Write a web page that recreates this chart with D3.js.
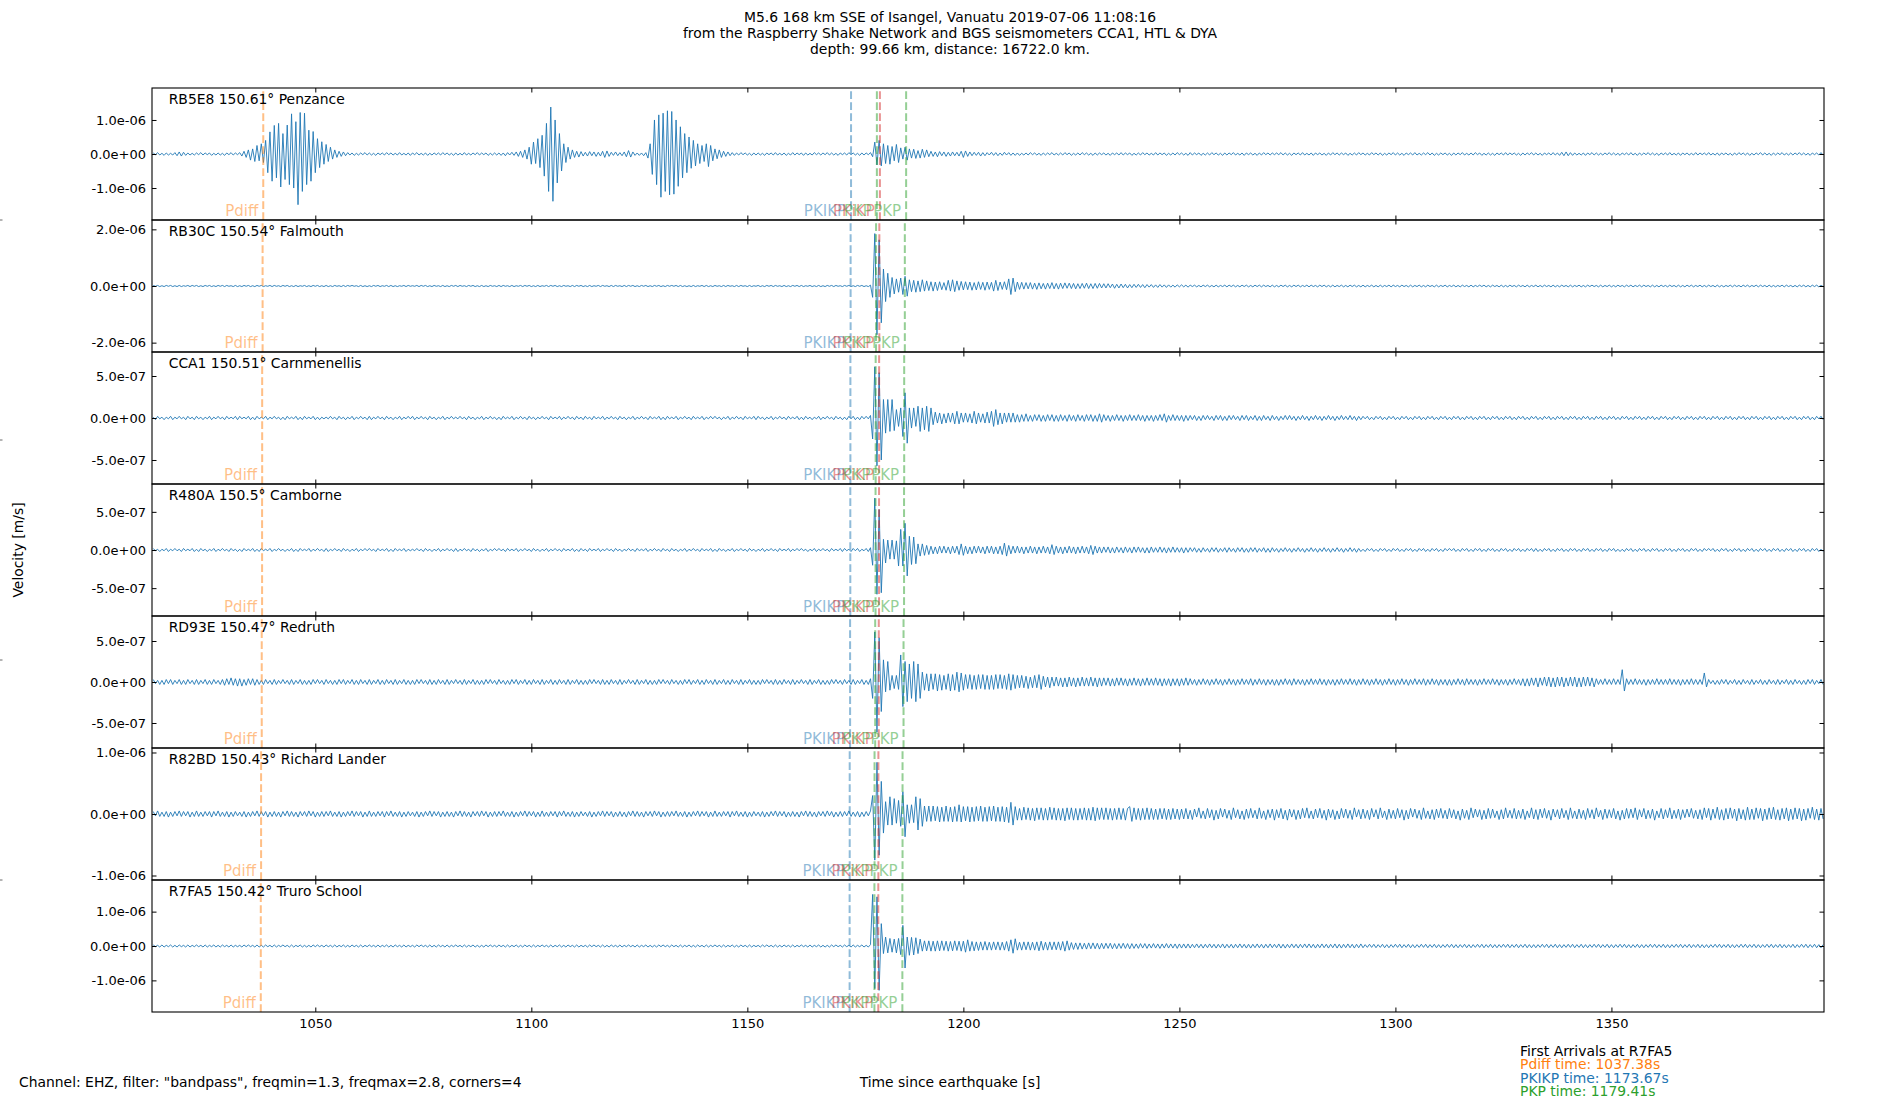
<!DOCTYPE html>
<html lang="en">
<head>
    <meta charset="UTF-8">
    <title>Seismograms</title>
    <style>
        body{ margin: 0; background: #fff; }
        svg text{ font-family: "DejaVu Sans", sans-serif; fill: #000; }
    </style>
</head>
<body>
    <svg id="main-svg" width="1900" height="1100"></svg>

    <script src="https://cdn.jsdelivr.net/npm/d3@7"></script>
    <script>

        // ---- data ----
        const stations = ['RB5E8', 'RB30C', 'CCA1', 'R480A', 'RD93E', 'R82BD', 'R7FA5'];
        const distances = [150.61, 150.54, 150.51, 150.5, 150.47, 150.43, 150.42];
        const towns = ['Penzance', 'Falmouth', 'Carnmenellis', 'Camborne', 'Redruth', 'Richard Lander', 'Truro School'];

        // symmetric y limits (m/s) and y ticks for each panel
        const yLimits = [1.94e-6, 2.33e-6, 7.86e-7, 8.65e-7, 8.05e-7, 1.073e-6, 1.92e-6];
        const yTicks = [
            [-1e-6, 0, 1e-6], [-2e-6, 0, 2e-6], [-5e-7, 0, 5e-7], [-5e-7, 0, 5e-7],
            [-5e-7, 0, 5e-7], [-1e-6, 0, 1e-6], [-1e-6, 0, 1e-6]
        ];

        const timeRange = [1012.2, 1399.2];
        const xTicks = [1050, 1100, 1150, 1200, 1250, 1300, 1350];

        // arrival times (s) per station
        const pdiffTimes = [1037.95, 1037.8, 1037.7, 1037.68, 1037.6, 1037.45, 1037.38];
        const pkikpTimes = [1174.0, 1173.9, 1173.85, 1173.83, 1173.78, 1173.69, 1173.67];
        const pkikpInnerTimes = [1180.68, 1180.55, 1180.5, 1180.48, 1180.42, 1180.33, 1180.31];
        const pkpTimes = [1179.98, 1179.79, 1179.7, 1179.67, 1179.59, 1179.44, 1179.41];
        const pkpLateTimes = [1186.75, 1186.45, 1186.3, 1186.27, 1186.15, 1185.92, 1185.88];

        // traces: one peak value every half second from 1012.5 s, in units of 1e-8 m/s
        // (each line = 20 s)
        const traceStart = 1012.5, traceStep = 0.5, traceUnit = 1e-8;

        const traceRB5E8 = [
            3,-2,4,-3,2,-4,3,-3,2,-3, 4,-5,6,-6,5,-4,3,-3,2,-3, 3,-2,4,-3,3,-2,3,-4,2,-3, 3,-3,2,-4,3,-2,4,-3,3,-2,
            4,-6,8,-10,12,-18,15,-22,25,-20, 30,-25,40,-55,65,-80,84,-70,90,-97, 60,-75,85,-90,118,-100,95,-149,122,-110, 120,-90,70,-80,66,-55,45,-40,36,-30,
            28,-22,20,-15,12,-10,8,-7,6,-5, 4,-3,3,-4,2,-3,3,-2,4,-3, 3,-3,2,-4,3,-2,3,-3,4,-2, 3,-3,2,-3,4,-3,2,-3,3,-4,
            3,-2,4,-3,2,-3,3,-4,2,-3, 3,-2,3,-3,4,-2,3,-3,2,-4, 3,-3,2,-3,4,-3,2,-3,3,-2, 4,-3,3,-2,3,-4,2,-3,3,-3,
            3,-4,3,-5,4,-3,5,-4,6,-7, 8,-10,12,-15,20,-30,35,-28,45,-40, 55,-65,90,-110,138,-139,100,-85,60,-50, 30,-25,20,-15,12,-10,8,-9,7,-6,
            5,-6,7,-5,6,-7,5,-6,8,-10, 9,-7,5,-4,6,-5,4,-5,6,-8, 10,-9,6,-4,3,-4,3,-5,4,-12, 30,-60,100,-90,115,-127,120,-110,127,-120,
            125,-118,100,-95,80,-70,60,-55,50,-42, 40,-35,30,-28,25,-22,30,-37,25,-20, 15,-14,12,-10,8,-7,6,-5,4,-4, 3,-3,4,-2,3,-3,2,-4,3,-3,
            3,-3,2,-4,3,-2,3,-3,4,-3, 2,-3,3,-4,2,-3,4,-3,3,-2, 3,-4,3,-3,2,-3,4,-2,3,-3, 3,-2,4,-3,3,-3,2,-4,3,-2,
            3,-3,4,-2,3,-3,2,-4,3,-3, 3,-2,4,-8,35,-32,40,-35,30,-28, 25,-30,22,-20,28,-25,18,-15,20,-18, 15,-12,14,-13,10,-12,14,-10,12,-8,
            8,-7,6,-8,7,-5,6,-7,5,-6, 6,-5,5,-6,8,-10,9,-7,6,-5, 5,-4,5,-6,4,-5,4,-3,5,-4, 4,-5,3,-4,5,-3,4,-4,3,-4,
            3,-4,2,-3,3,-3,4,-2,3,-3, 2,-4,3,-3,3,-2,4,-3,2,-3, 3,-3,4,-2,3,-4,2,-3,3,-3, 4,-2,3,-3,2,-4,3,-3,3,-2,
            3,-3,2,-4,3,-2,3,-3,4,-3, 3,-2,3,-4,2,-3,3,-3,4,-2, 3,-3,2,-3,4,-3,3,-2,3,-4, 2,-3,3,-3,4,-2,3,-3,2,-4,
            4,-3,3,-2,3,-4,2,-3,3,-3, 4,-2,3,-3,2,-4,3,-3,3,-2, 4,-3,2,-3,3,-4,3,-2,3,-3, 2,-4,3,-3,4,-2,3,-3,3,-2,
            3,-2,4,-3,3,-3,2,-4,3,-2, 3,-3,4,-3,2,-3,3,-4,3,-2, 3,-3,2,-4,3,-3,4,-2,3,-3, 3,-2,3,-4,2,-3,3,-3,4,-2,
            3,-3,2,-3,4,-2,3,-3,3,-4, 2,-3,3,-2,4,-3,3,-3,2,-4, 3,-2,3,-3,4,-3,2,-3,3,-2, 4,-3,3,-4,2,-3,3,-2,3,-3,
            2,-4,3,-3,3,-2,4,-3,2,-3, 3,-3,4,-2,3,-4,2,-3,3,-3, 2,-4,3,-2,3,-3,4,-3,3,-2, 3,-3,2,-4,3,-3,3,-2,4,-3,
            3,-3,2,-4,3,-2,3,-3,4,-3, 3,-4,5,-5,6,-5,4,-4,3,-3, 2,-3,3,-4,3,-2,4,-3,3,-3, 2,-3,3,-2,4,-3,3,-3,2,-4,
            3,-2,3,-3,4,-3,2,-4,3,-3, 3,-2,4,-3,3,-3,2,-4,3,-2, 3,-3,4,-3,2,-3,3,-4,3,-2, 3,-3,2,-3,4,-3,3,-2,3,-3,
            4,-3,2,-3,3,-4,3,-2,3,-3, 2,-4,3,-3,4,-2,3,-3,3,-4, 2,-3,3,-2,4,-3,3,-3,2,-4, 3,-3,3,-2,4,-3,2,-3,3,-3,
            3,-2,4,-3,3,-3,2,-4,3,-2,3,-3,4,-3
        ];

        const traceRB30C = [
            2,-1,2,-2,1,-2,2,-1,2,-2, 1,-2,2,-2,1,-1,2,-2,2,-1, 2,-2,1,-2,2,-1,2,-2,1,-2, 2,-1,2,-2,2,-1,1,-2,2,-2,
            1,-2,2,-1,2,-2,1,-2,2,-1, 2,-2,1,-1,2,-2,2,-1,1,-2, 2,-1,2,-2,1,-2,2,-2,1,-1, 2,-2,1,-2,2,-1,2,-2,1,-2,
            2,-2,1,-2,2,-1,1,-2,2,-2, 2,-1,2,-1,1,-2,2,-2,1,-2, 1,-2,2,-1,2,-2,1,-1,2,-2, 2,-2,1,-2,1,-1,2,-2,2,-1,
            1,-1,2,-2,2,-1,2,-2,1,-2, 2,-1,1,-2,2,-2,1,-2,2,-1, 2,-2,2,-1,1,-2,2,-1,2,-2, 1,-2,2,-2,1,-2,2,-1,1,-2,
            2,-2,2,-1,1,-2,2,-2,1,-1, 2,-2,2,-1,2,-2,1,-2,2,-2, 1,-1,2,-2,2,-1,2,-2,1,-2, 2,-1,1,-2,2,-2,2,-1,2,-2,
            1,-2,2,-2,1,-1,2,-2,2,-1, 1,-2,2,-2,2,-1,1,-2,2,-2, 2,-1,2,-2,1,-2,2,-1,2,-2, 1,-2,2,-1,2,-2,1,-2,2,-1,
            2,-1,2,-2,2,-2,1,-2,1,-2, 2,-2,1,-1,2,-2,2,-2,1,-2, 2,-1,1,-2,2,-2,2,-1,1,-2, 2,-2,2,-1,1,-2,2,-2,1,-1,
            2,-2,1,-2,2,-1,2,-2,2,-1, 1,-2,2,-2,1,-2,2,-1,2,-2, 2,-2,1,-1,2,-2,1,-2,2,-2, 1,-2,2,-1,2,-2,2,-1,1,-2,
            2,-1,2,-2,1,-2,2,-1,2,-2, 1,-2,3,-40,185,-172,163,-130,60,-55, 45,-40,30,-28,25,-22,28,-30,34,-36, 22,-20,20,-22,18,-20,22,-18,18,-16,
            15,-18,14,-16,15,-13,12,-15,20,-18, 22,-20,18,-15,16,-14,15,-13,14,-15, 12,-14,15,-12,13,-15,14,-12,13,-18, 20,-16,14,-12,15,-13,25,-30,28,-20,
            14,-12,13,-11,12,-10,12,-11,10,-12, 11,-10,9,-11,10,-9,12,-10,9,-11, 10,-9,11,-8,10,-9,9,-10,8,-9, 9,-8,10,-9,8,-9,9,-8,9,-7,
            8,-7,8,-6,7,-8,6,-7,7,-6, 6,-7,5,-6,6,-5,6,-5,5,-6, 5,-4,5,-5,4,-5,5,-4,4,-5, 4,-4,3,-4,4,-3,4,-3,3,-4,
            3,-2,3,-3,2,-3,3,-2,3,-3, 2,-3,3,-3,2,-2,3,-3,3,-2, 3,-3,2,-3,3,-2,3,-3,2,-3, 3,-2,3,-3,3,-2,2,-3,3,-3,
            2,-3,3,-2,3,-3,2,-3,3,-2, 3,-3,2,-2,3,-3,3,-2,2,-3, 3,-2,3,-3,2,-3,3,-3,2,-2, 3,-3,2,-3,3,-2,3,-3,2,-3,
            3,-3,2,-2,3,-3,2,-3,3,-3, 2,-2,3,-3,3,-2,2,-3,3,-2, 2,-3,3,-3,2,-2,3,-3,2,-3, 3,-2,2,-3,3,-3,2,-2,3,-3,
            2,-2,3,-3,2,-3,3,-2,2,-3, 3,-3,2,-2,3,-2,3,-3,2,-3, 3,-2,2,-3,3,-3,2,-3,3,-2, 2,-3,3,-2,2,-3,3,-3,2,-2,
            3,-3,2,-3,3,-2,2,-3,3,-3, 2,-3,3,-2,2,-3,3,-3,2,-2, 3,-3,2,-3,3,-2,3,-2,2,-3, 3,-3,2,-2,3,-3,2,-3,3,-2,
            2,-3,3,-2,3,-3,2,-2,3,-3, 3,-2,2,-3,3,-3,2,-3,3,-2, 2,-3,3,-2,2,-3,3,-3,2,-3, 3,-2,3,-3,2,-2,3,-3,2,-3,
            3,-2,2,-3,3,-3,2,-3,2,-2, 3,-3,3,-2,2,-3,3,-2,3,-3, 2,-2,3,-3,3,-2,2,-3,3,-3, 2,-3,2,-2,3,-3,3,-2,2,-3,
            2,-3,3,-2,3,-3,2,-3,3,-2,3,-3,2,-2
        ];

        const traceCCA1 = [
            1,-2,2,-1,1,-2,1,-1,2,-2, 1,-1,2,-1,1,-2,2,-1,1,-2, 2,-1,1,-2,1,-1,2,-2,1,-1, 2,-1,1,-2,2,-1,1,-1,2,-2,
            2,-1,1,-1,2,-2,1,-2,2,-1, 1,-1,2,-2,1,-1,2,-1,1,-2, 1,-2,2,-1,1,-1,2,-2,1,-2, 2,-1,1,-1,2,-2,1,-2,1,-1,
            1,-1,2,-1,1,-2,2,-1,1,-2, 1,-1,2,-2,1,-1,2,-1,1,-2, 2,-2,1,-1,2,-1,1,-2,2,-1, 1,-2,1,-1,2,-2,1,-1,2,-1,
            2,-2,1,-1,2,-1,1,-2,2,-1, 1,-2,1,-1,2,-2,1,-1,2,-1, 1,-1,2,-1,1,-2,2,-1,1,-2, 1,-1,2,-2,1,-1,2,-1,1,-2,
            1,-2,2,-1,1,-1,2,-2,1,-1, 2,-1,1,-2,2,-1,1,-2,1,-1, 2,-1,1,-2,2,-1,1,-1,2,-2, 1,-1,2,-1,1,-2,2,-1,1,-2,
            2,-1,1,-2,2,-1,1,-1,2,-2, 1,-1,2,-1,1,-2,2,-1,1,-2, 1,-1,2,-2,1,-1,2,-1,1,-2, 2,-1,1,-1,2,-2,1,-2,2,-1,
            1,-1,2,-2,1,-1,2,-1,1,-2, 2,-1,1,-1,2,-2,1,-1,2,-1, 2,-1,1,-2,1,-1,2,-2,1,-1, 2,-1,1,-2,2,-1,1,-1,2,-2,
            2,-1,1,-2,1,-1,2,-2,1,-1, 2,-1,1,-2,2,-1,1,-1,2,-2, 1,-2,2,-1,1,-2,1,-1,2,-2, 1,-1,2,-1,1,-2,2,-1,1,-2,
            1,-2,2,-1,2,-2,1,-2,2,-1, 2,-1,3,-25,61,-57,54,-50,22,-18, 22,-16,22,-15,10,-10,12,-22,30,-30, 12,-12,12,-10,14,-16,12,-14,14,-16,
            12,-8,7,-6,6,-7,5,-6,6,-5, 6,-7,8,-7,6,-5,6,-5,5,-6, 8,-7,6,-5,5,-6,7,-6,8,-10, 10,-8,6,-7,6,-5,6,-5,6,-5,
            4,-5,4,-4,5,-4,3,-4,4,-3, 4,-4,3,-4,4,-3,4,-4,3,-4, 4,-3,3,-4,4,-3,3,-4,4,-3, 3,-4,4,-3,4,-4,3,-4,5,-5,
            4,-3,3,-4,3,-3,4,-3,3,-4, 3,-3,4,-3,3,-3,4,-3,3,-4, 3,-3,3,-4,3,-3,4,-3,5,-5, 3,-3,4,-3,3,-3,3,-4,3,-3,
            3,-2,3,-3,2,-3,3,-2,3,-2, 2,-3,3,-2,3,-3,2,-3,3,-2, 3,-2,2,-3,3,-2,3,-3,2,-2, 3,-3,2,-3,3,-2,2,-3,3,-2,
            2,-3,2,-2,3,-2,3,-2,2,-3, 2,-2,3,-2,2,-3,2,-2,3,-2, 2,-3,2,-2,3,-2,2,-3,2,-2, 3,-2,2,-2,3,-2,2,-3,2,-2,
            2,-1,2,-2,1,-2,2,-1,2,-2, 1,-2,2,-1,2,-2,1,-2,2,-1, 2,-2,1,-2,2,-1,2,-2,1,-2, 2,-1,2,-2,1,-2,2,-1,2,-2,
            1,-2,2,-1,2,-2,1,-2,2,-1, 2,-2,1,-2,2,-1,2,-2,1,-2, 2,-1,2,-2,1,-2,2,-1,2,-2, 1,-2,2,-1,2,-2,1,-2,2,-1,
            2,-2,1,-2,2,-1,2,-2,1,-2, 2,-1,2,-2,1,-2,2,-1,2,-2, 1,-2,2,-1,2,-2,1,-2,2,-1, 2,-2,1,-2,2,-1,2,-2,1,-2,
            2,-1,2,-2,1,-2,2,-1,2,-2, 1,-2,2,-1,2,-2,1,-2,2,-1, 2,-2,1,-2,2,-1,2,-2,1,-2, 2,-1,2,-2,1,-2,2,-1,2,-2,
            1,-2,2,-1,2,-2,1,-2,2,-1, 2,-2,1,-2,2,-1,2,-2,1,-2, 2,-1,2,-2,1,-2,2,-1,2,-2, 1,-2,2,-1,2,-2,1,-2,2,-1,
            2,-2,1,-2,2,-1,2,-2,1,-2,2,-1,2,-2
        ];

        const traceR480A = [
            2,-1,1,-2,1,-1,2,-2,1,-1, 2,-1,1,-2,2,-1,1,-1,2,-2, 1,-2,2,-1,1,-2,1,-1,2,-2, 1,-1,2,-1,1,-2,2,-1,1,-2,
            1,-2,2,-1,1,-1,2,-2,1,-2, 2,-1,1,-1,2,-2,1,-1,2,-1, 1,-2,1,-1,2,-2,1,-2,2,-1, 1,-1,2,-2,1,-1,2,-1,1,-2,
            2,-2,1,-1,2,-1,1,-2,2,-1, 1,-2,1,-1,2,-2,1,-1,2,-1, 2,-1,1,-2,2,-1,1,-1,2,-2, 1,-2,2,-1,1,-1,2,-2,1,-1,
            1,-1,2,-1,1,-2,2,-1,1,-2, 1,-1,2,-2,1,-1,2,-1,1,-2, 2,-2,1,-1,2,-1,1,-2,2,-1, 1,-2,1,-1,2,-2,1,-1,2,-1,
            2,-1,1,-2,2,-1,1,-1,2,-2, 1,-1,2,-1,1,-2,2,-1,1,-2, 1,-1,2,-2,1,-1,2,-1,1,-2, 2,-1,1,-1,2,-2,1,-2,2,-1,
            1,-2,2,-1,1,-1,2,-2,1,-1, 2,-1,1,-2,2,-1,1,-2,1,-1, 2,-1,1,-2,2,-1,1,-1,2,-2, 1,-1,2,-1,1,-2,2,-1,1,-2,
            2,-1,1,-2,1,-1,2,-2,1,-1, 2,-1,1,-2,2,-1,1,-1,2,-2, 1,-2,2,-1,1,-2,1,-1,2,-2, 1,-1,2,-1,1,-2,2,-1,1,-2,
            1,-1,2,-2,1,-1,2,-1,1,-2, 2,-1,1,-1,2,-2,1,-1,2,-1, 2,-1,1,-2,1,-1,2,-2,1,-1, 2,-1,1,-2,2,-1,1,-1,2,-2,
            2,-1,1,-2,2,-1,2,-2,1,-1, 2,-2,3,-20,68,-58,53,-56,14,-17, 13,-12,13,-12,12,-21,27,-21,35,-34, 18,-19,17,-18,8,-8,8,-7,6,-6,
            5,-5,4,-5,5,-4,5,-4,4,-5, 5,-4,5,-6,8,-7,5,-5,4,-5, 5,-4,5,-4,4,-5,5,-4,5,-5, 4,-5,5,-6,9,-8,6,-5,5,-4,
            5,-4,4,-5,4,-4,5,-4,4,-5, 4,-4,5,-4,4,-5,7,-6,5,-4, 4,-5,4,-4,5,-4,4,-5,4,-4, 5,-4,4,-5,6,-6,5,-4,4,-4,
            4,-3,4,-4,3,-4,4,-3,3,-4, 4,-3,3,-4,4,-3,4,-3,3,-4, 3,-4,4,-3,3,-3,4,-3,3,-4, 3,-3,4,-3,3,-3,3,-4,3,-3,
            3,-2,3,-3,2,-3,3,-2,2,-3, 3,-2,3,-3,2,-2,3,-3,3,-2, 2,-3,3,-2,3,-3,2,-3,3,-2, 3,-3,2,-2,3,-3,2,-3,3,-2,
            2,-3,2,-2,3,-2,2,-3,2,-2, 3,-2,2,-3,2,-2,3,-2,2,-3, 2,-2,3,-2,2,-3,2,-2,3,-2, 2,-3,2,-2,3,-2,2,-3,2,-2,
            1,-2,2,-1,2,-2,1,-2,2,-1, 2,-2,1,-2,2,-1,2,-2,1,-2, 2,-1,2,-2,1,-2,2,-1,2,-2, 1,-2,2,-1,2,-2,1,-2,2,-1,
            2,-1,2,-2,1,-2,2,-1,2,-2, 1,-2,2,-1,2,-2,1,-2,2,-1, 2,-2,1,-2,2,-1,2,-2,1,-2, 2,-1,2,-2,1,-2,2,-1,2,-2,
            2,-2,1,-2,2,-1,2,-2,1,-2, 2,-1,2,-2,1,-2,2,-1,2,-2, 1,-2,2,-1,2,-2,1,-2,2,-1, 2,-2,1,-2,2,-1,2,-2,1,-2,
            1,-2,2,-1,2,-2,1,-2,2,-1, 2,-2,1,-2,2,-1,2,-2,1,-2, 2,-1,2,-2,1,-2,2,-1,2,-2, 1,-2,2,-1,2,-2,1,-2,2,-1,
            2,-1,2,-2,1,-2,2,-1,2,-2, 1,-2,2,-1,2,-2,1,-2,2,-1, 2,-2,1,-2,2,-1,2,-2,1,-2, 2,-1,2,-2,1,-2,2,-1,2,-2,
            1,-2,2,-1,2,-2,1,-2,2,-1,2,-2,1,-2
        ];

        const traceRD93E = [
            3,-2,2,-3,2,-3,3,-2,3,-3, 2,-2,3,-3,2,-3,3,-2,2,-3, 3,-3,2,-2,3,-3,2,-3,3,-2, 2,-3,3,-4,4,-3,5,-4,4,-5,
            4,-5,3,-4,4,-3,4,-4,3,-3, 2,-3,3,-2,2,-3,3,-3,2,-2, 3,-2,2,-3,3,-3,2,-2,3,-3, 2,-3,2,-3,3,-2,3,-2,2,-3,
            3,-2,2,-3,2,-3,3,-2,3,-3, 2,-2,3,-3,2,-3,3,-2,2,-3, 3,-3,2,-2,3,-3,2,-3,3,-2, 2,-3,3,-3,2,-2,3,-3,2,-3,
            2,-3,3,-2,3,-2,2,-3,3,-3, 2,-3,3,-2,2,-3,3,-3,2,-2, 3,-2,2,-3,3,-3,2,-2,3,-3, 2,-3,2,-3,3,-2,3,-2,2,-3,
            3,-2,2,-3,2,-3,3,-2,3,-3, 2,-2,3,-3,2,-3,3,-2,2,-3, 3,-3,2,-2,3,-3,2,-3,3,-2, 2,-3,3,-3,2,-2,3,-3,2,-3,
            2,-3,3,-2,3,-2,2,-3,3,-3, 2,-3,3,-2,2,-3,3,-3,2,-2, 3,-2,2,-3,3,-3,2,-2,3,-3, 2,-3,2,-3,3,-2,3,-2,2,-3,
            3,-2,2,-3,2,-3,3,-2,3,-3, 2,-2,3,-3,2,-3,3,-2,2,-3, 3,-3,2,-2,3,-3,2,-3,3,-2, 2,-3,3,-3,2,-2,3,-3,2,-3,
            2,-3,3,-2,3,-2,2,-3,3,-3, 2,-3,3,-2,2,-3,3,-3,2,-2, 3,-2,2,-3,3,-3,2,-2,3,-3, 2,-3,2,-3,3,-2,3,-2,2,-3,
            3,-2,2,-3,3,-3,2,-2,3,-3, 2,-3,4,-20,61,-61,54,-36,27,-12, 25,-10,8,-8,8,-9,33,-30,25,-24, 22,-20,25,-24,22,-20,12,-10,10,-11,
            10,-9,10,-11,9,-10,8,-9,10,-11, 9,-10,12,-12,11,-10,9,-8,9,-9, 8,-9,9,-8,9,-9,8,-9,8,-9, 9,-8,9,-8,8,-9,10,-10,9,-8,
            8,-7,8,-7,7,-8,6,-7,8,-7, 9,-9,7,-6,6,-7,6,-5,6,-5, 5,-6,5,-6,6,-5,5,-6,5,-5, 6,-5,5,-5,6,-5,5,-6,5,-5,
            5,-4,5,-5,4,-5,5,-4,5,-4, 4,-5,4,-4,5,-4,4,-5,4,-4, 5,-4,4,-4,5,-4,4,-5,4,-4, 4,-5,4,-4,4,-5,4,-4,5,-4,
            4,-3,3,-4,3,-3,4,-3,3,-4, 3,-3,4,-3,3,-4,3,-3,4,-3, 3,-4,3,-3,4,-3,3,-3,4,-4, 3,-3,4,-3,3,-4,3,-3,3,-4,
            3,-4,3,-3,4,-3,3,-4,4,-3, 3,-3,3,-4,3,-3,4,-3,3,-3, 4,-3,3,-4,3,-3,3,-4,3,-3, 4,-3,3,-3,4,-3,3,-4,3,-3,
            4,-3,3,-4,3,-3,4,-3,3,-4, 3,-3,4,-3,3,-4,3,-3,4,-3, 3,-4,3,-3,4,-3,3,-3,4,-4, 3,-3,4,-3,3,-4,3,-3,3,-4,
            3,-4,3,-3,4,-3,3,-4,4,-3, 3,-3,3,-4,3,-3,4,-3,3,-3, 4,-3,3,-4,3,-3,3,-4,3,-3, 4,-3,3,-4,4,-5,4,-5,5,-4,
            5,-6,5,-4,6,-5,6,-6,5,-6, 6,-5,6,-6,5,-5,6,-5,6,-6, 5,-6,6,-5,6,-5,5,-6,4,-3, 3,-3,4,-3,3,-3,4,-3,3,-3,
            15,-11,4,-3,3,-3,4,-3,3,-3, 3,-4,3,-3,3,-3,4,-3,3,-3, 3,-3,4,-3,3,-3,3,-4,3,-3, 3,-3,4,-3,3,-3,3,-3,11,-6,
            3,-2,2,-3,2,-3,3,-2,3,-3, 2,-2,3,-3,2,-3,3,-2,2,-3, 3,-3,2,-2,3,-3,2,-3,3,-2, 2,-3,3,-3,2,-2,3,-3,2,-3,
            3,-2,2,-3,2,-3,3,-2,3,-3,2,-2,3,-3
        ];

        const traceR82BD = [
            4,-3,5,-4,3,-4,4,-5,3,-4, 4,-3,5,-4,4,-3,4,-5,3,-4, 5,-4,3,-4,4,-3,4,-5,4,-3, 5,-4,3,-4,4,-5,3,-4,4,-3,
            3,-4,4,-5,3,-4,4,-3,5,-4, 4,-3,4,-5,3,-4,4,-4,3,-5, 4,-3,5,-4,4,-4,3,-5,4,-3, 4,-4,5,-3,4,-5,3,-4,4,-4,
            4,-3,5,-4,3,-4,4,-5,3,-4, 4,-3,5,-4,4,-3,4,-5,3,-4, 5,-4,3,-4,4,-3,4,-5,4,-3, 5,-4,3,-4,4,-5,3,-4,4,-3,
            3,-4,4,-5,3,-4,4,-3,5,-4, 4,-3,4,-5,3,-4,4,-4,3,-5, 4,-3,5,-4,4,-4,3,-5,4,-3, 4,-4,5,-3,4,-5,3,-4,4,-4,
            4,-3,5,-4,3,-4,4,-5,3,-4, 4,-3,5,-4,4,-3,4,-5,3,-4, 5,-4,3,-4,4,-3,4,-5,4,-3, 5,-4,3,-4,4,-5,3,-4,4,-3,
            3,-4,4,-5,3,-4,4,-3,5,-4, 4,-3,4,-5,3,-4,4,-4,3,-5, 4,-3,5,-4,4,-4,3,-5,4,-3, 4,-4,5,-3,4,-5,3,-4,4,-4,
            4,-3,5,-4,3,-4,4,-5,3,-4, 4,-3,5,-4,4,-3,4,-5,3,-4, 5,-4,3,-4,4,-3,4,-5,4,-3, 5,-4,3,-4,4,-5,3,-4,4,-3,
            3,-4,4,-5,3,-4,4,-3,5,-4, 4,-3,4,-5,3,-4,4,-4,3,-5, 4,-3,5,-4,4,-4,3,-5,4,-3, 4,-4,5,-3,4,-5,3,-4,4,-4,
            4,-3,5,-4,3,-4,4,-5,3,-4, 4,-3,5,30,-75,84,-67,53,-31,20, -18,28,-18,25,-15,22,-20,36,-37,15, -15,15,-14,28,-26,25,-20,13,-12,13,
            -12,13,-11,12,-13,11,-12,13,-12,11, -13,12,-12,15,-13,12,-11,12,-13,11, -12,12,-11,13,-12,11,-12,12,-11,13, -12,11,-12,12,-13,11,-14,19,-18,12,
            -10,9,-10,11,-9,10,-10,9,-11,10, -9,10,-10,9,-10,11,-9,10,-10,9, -10,9,-11,10,-9,10,-10,9,-10,9, -9,10,-10,9,-10,11,-11,10,-9,10,
            -9,10,-9,9,-10,9,-9,10,-9,9, -10,9,12,-12,10,-9,9,-10,9,-9, 10,-9,9,-9,8,-9,9,-8,9,-9, 8,-9,9,-8,8,-9,8,-8,9,-8,
            6,-9,8,-5,10,-7,5,-8,9,-6, 7,-10,6,-8,9,-5,8,-7,6,-9, 10,-6,7,-8,5,-9,8,-7,9,-6, 6,-8,10,-7,5,-9,7,-6,8,-10,
            7,-6,9,-8,6,-10,8,-5,7,-9, 6,-8,9,-6,10,-7,5,-8,8,-6, 9,-7,6,-10,8,-6,7,-9,5,-8, 9,-6,8,-7,6,-9,10,-5,7,-8,
            8,-7,6,-9,9,-5,7,-8,10,-6, 5,-9,8,-7,6,-8,9,-6,7,-10, 6,-8,9,-5,8,-7,6,-9,10,-7, 5,-8,7,-9,8,-6,9,-7,6,-8,
            9,-6,7,-8,5,-10,8,-7,6,-9, 10,-6,8,-5,7,-9,6,-8,9,-7, 8,-6,5,-9,7,-8,10,-6,6,-7, 9,-8,6,-7,8,-9,5,-6,10,-8,
            7,-9,8,-6,9,-7,6,-10,8,-5, 7,-8,9,-6,6,-9,10,-7,5,-8, 8,-7,6,-9,9,-6,7,-8,10,-5, 6,-9,8,-7,7,-6,9,-8,5,-10,
            6,-8,9,-7,8,-6,10,-9,7,-5, 9,-8,6,-7,8,-10,5,-6,9,-8, 7,-6,10,-8,6,-7,8,-9,7,-6, 8,-5,9,-7,6,-8,7,-9,10,-6,
            9,-10,8,-7,11,-9,7,-10,9,-8, 10,-7,8,-11,9,-8,7,-10,11,-9, 8,-9,10,-7,9,-11,8,-9,10,-8, 11,-9,7,-10,9,-8,10,-11,8,-9,
            10,-8,9,-11,8,-10,9,-7,11,-9,8,-10,9,-8
        ];

        const traceR7FA5 = [
            3,-2,2,-3,3,-3,2,-2,3,-3, 2,-3,3,-2,2,-3,3,-3,2,-2, 3,-2,2,-3,3,-3,2,-2,3,-3, 2,-3,3,-2,2,-3,3,-3,2,-2,
            2,-3,3,-2,3,-2,2,-3,3,-3, 2,-3,3,-2,2,-3,3,-3,2,-2, 3,-2,2,-3,3,-3,2,-2,3,-3, 2,-3,2,-3,3,-2,3,-2,2,-3,
            3,-2,2,-3,3,-3,2,-2,3,-3, 2,-3,3,-2,2,-3,3,-3,2,-2, 3,-2,2,-3,3,-3,2,-2,3,-3, 2,-3,3,-2,2,-3,3,-3,2,-2,
            2,-3,3,-2,3,-2,2,-3,3,-3, 2,-3,3,-2,2,-3,3,-3,2,-2, 3,-2,2,-3,3,-3,2,-2,3,-3, 2,-3,2,-3,3,-2,3,-2,2,-3,
            3,-2,2,-3,3,-3,2,-2,3,-3, 2,-3,3,-2,2,-3,3,-3,2,-2, 3,-2,2,-3,3,-3,2,-2,3,-3, 2,-3,3,-2,2,-3,3,-3,2,-2,
            2,-3,3,-2,3,-2,2,-3,3,-3, 2,-3,3,-2,2,-3,3,-3,2,-2, 3,-2,2,-3,3,-3,2,-2,3,-3, 2,-3,2,-3,3,-2,3,-2,2,-3,
            3,-2,2,-3,3,-3,2,-2,3,-3, 2,-3,3,-2,2,-3,3,-3,2,-2, 3,-2,2,-3,3,-3,2,-2,3,-3, 2,-3,3,-2,2,-3,3,-3,2,-2,
            2,-3,3,-2,3,-2,2,-3,3,-3, 2,-3,3,-2,2,-3,3,-3,2,-2, 3,-2,2,-3,3,-3,2,-2,3,-3, 2,-3,2,-3,3,-2,3,-2,2,-3,
            3,-2,2,-3,3,-3,2,-2,3,-3, 2,-3,4,150,-124,143,-129,65,-22,26, -20,22,-18,20,-20,22,-25,60,-64,26, -27,25,-26,24,-22,20,-15,15,-14,15,
            -15,14,-15,15,-14,15,-13,14,-15,13, -14,15,-13,14,-15,14,-18,18,-15,13, -14,12,-13,12,-12,13,-12,11,-12,12, -11,12,-12,11,-12,13,-15,18,-21,21,
            -12,11,-12,12,-11,12,-12,11,-12,12, -14,14,-12,11,-12,12,-11,12,-11,12, -12,13,-15,15,-12,10,-10,9,-10,9, -9,8,-9,9,-8,9,-8,8,-9,8,
            -8,8,-7,8,-8,7,-8,7,-7,8, -7,7,-8,7,-7,6,-7,7,-6,7, -7,6,-6,7,-6,6,-7,6,-6,7, -6,6,-6,6,-7,6,-6,6,-6,6,
            -6,5,-5,6,-5,5,-6,5,-5,6, -5,5,-6,5,-5,6,-6,5,-5,5, -6,5,-5,6,-5,5,-6,5,-6,5, -5,6,-5,5,-6,5,-5,6,-5,5,
            -5,6,-6,5,-6,5,-5,6,-5,5, -6,5,-5,6,-5,6,-5,5,-6,5, -5,6,-5,5,-6,5,-5,6,-6,5, -6,5,-5,6,-5,5,-6,5,-5,6,
            -5,4,-4,5,-4,5,-5,4,-4,5, -5,4,-5,4,-4,5,-4,5,-5,4, -4,5,-5,4,-5,4,-4,5,-4,5, -5,4,-4,5,-5,4,-5,4,-4,5,
            -4,5,-5,4,-5,4,-4,5,-5,4, -5,4,-4,5,-4,5,-5,4,-4,5, -5,4,-5,4,-4,5,-4,5,-5,4, -4,5,-5,4,-4,5,-5,4,-5,4,
            -5,4,-4,5,-4,5,-5,4,-4,5, -5,4,-5,4,-4,5,-4,5,-5,4, -4,5,-5,4,-5,4,-4,5,-4,5, -5,4,-4,5,-5,4,-5,4,-4,5,
            -4,5,-5,4,-5,4,-4,5,-5,4, -5,4,-4,5,-4,5,-5,4,-4,5, -5,4,-5,4,-4,5,-4,5,-5,4, -4,5,-5,4,-4,5,-5,4,-5,4,
            -5,4,-4,5,-4,5,-5,4,-4,5, -5,4,-5,4,-4,5,-4,5,-5,4, -4,5,-5,4,-5,4,-4,5,-4,5, -5,4,-4,5,-5,4,-5,4,-4,5,
            -5,4,-4,5,-4,5,-5,4,-4,5,-5,4,-5,4
        ];

        const traces = [traceRB5E8, traceRB30C, traceCCA1, traceR480A, traceRD93E, traceR82BD, traceR7FA5];

        // ---- layout ----
        const plotLeft = 152, plotRight = 1824, plotTop = 88, plotBottom = 1012;
        const panelH = (plotBottom - plotTop) / stations.length;
        const traceColor = '#1f77b4';
        const tickLen = 4.5;

        const arrivals = [
            {name: 'Pdiff', times: pdiffTimes, color: '#ff7f0e'},
            {name: 'PKIKP', times: pkikpTimes, color: '#1f77b4'},
            {name: 'PKiKP', times: pkikpInnerTimes, color: '#d62728'},
            {name: 'PKP', times: pkpTimes, color: '#2ca02c'},
            {name: 'PKP', times: pkpLateTimes, color: '#2ca02c'}
        ];

        const fmtExp = v => {
            let s = v.toExponential(1);
            return s.replace(/e([+-])(\d)$/, 'e$10$2');
        };

        let mSvg = d3.select('#main-svg');

        let x = d3.scaleLinear().domain(timeRange).range([plotLeft, plotRight]);

        let defs = mSvg.append('defs');

        stations.forEach((st, i) => {
            let y0 = plotTop + i * panelH;
            let y = d3.scaleLinear()
                .domain([-yLimits[i], yLimits[i]])
                .range([y0 + panelH, y0]);

            defs.append('clipPath')
                .attr('id', 'clip-' + i)
                .append('rect')
                .attr('x', plotLeft).attr('y', y0)
                .attr('width', plotRight - plotLeft).attr('height', panelH);

            let g = mSvg.append('g').attr('class', 'panel');
            let plot = g.append('g').attr('clip-path', `url(#clip-${i})`);

            // waveform
            let line = d3.line()
                .x((d, k) => x(traceStart + k * traceStep))
                .y(d => y(d * traceUnit));

            plot.append('path')
                .datum(traces[i])
                .attr('d', line)
                .attr('fill', 'none')
                .attr('stroke', traceColor)
                .attr('stroke-width', 0.9)
                .attr('stroke-linejoin', 'round');

            // phase arrival markers
            plot.selectAll('line.arrival')
                .data(arrivals)
                .enter()
                .append('line')
                .classed('arrival', true)
                .attr('x1', d => x(d.times[i]))
                .attr('x2', d => x(d.times[i]))
                .attr('y1', y0 + panelH)
                .attr('y2', y0)
                .attr('stroke', d => d.color)
                .attr('stroke-opacity', 0.5)
                .attr('stroke-width', 2)
                .attr('stroke-dasharray', '7.7,3.3');

            plot.selectAll('text.arrival')
                .data(arrivals)
                .enter()
                .append('text')
                .classed('arrival', true)
                .attr('x', d => x(d.times[i]) - 5)
                .attr('y', y0 + panelH - 3.6)
                .attr('text-anchor', 'end')
                .attr('font-size', 15)
                .style('fill', d => d.color)
                .style('fill-opacity', 0.5)
                .text(d => d.name);

            // station label
            g.append('text')
                .attr('x', plotLeft + 0.01 * (plotRight - plotLeft))
                .attr('y', y0 + 16.2)
                .attr('font-size', 13.9)
                .text(`${st} ${distances[i]}° ${towns[i]}`);

            // axes, ticks pointing inward on all four sides
            let yl = g.append('g')
                .attr('transform', `translate(${plotLeft},0)`)
                .call(d3.axisLeft(y).tickValues(yTicks[i]).tickFormat(fmtExp)
                    .tickSize(-tickLen).tickSizeOuter(0).tickPadding(6));
            let yr = g.append('g')
                .attr('transform', `translate(${plotRight},0)`)
                .call(d3.axisRight(y).tickValues(yTicks[i]).tickFormat('')
                    .tickSize(-tickLen).tickSizeOuter(0));
            let xt = g.append('g')
                .attr('transform', `translate(0,${y0})`)
                .call(d3.axisTop(x).tickValues(xTicks).tickFormat('')
                    .tickSize(-tickLen).tickSizeOuter(0));
            let xb = g.append('g')
                .attr('transform', `translate(0,${y0 + panelH})`)
                .call(d3.axisBottom(x).tickValues(xTicks)
                    .tickFormat(i === stations.length - 1 ? d3.format('d') : '')
                    .tickSize(-tickLen).tickSizeOuter(0).tickPadding(7));

            [yl, yr, xt, xb].forEach(a => {
                a.select('.domain').remove();
                a.attr('font-size', 13).attr('font-family', '"DejaVu Sans", sans-serif');
                a.selectAll('line').attr('stroke', '#000').attr('stroke-width', 1);
            });

            // frame
            g.append('rect')
                .attr('x', plotLeft).attr('y', y0)
                .attr('width', plotRight - plotLeft).attr('height', panelH)
                .attr('fill', 'none')
                .attr('stroke', '#000')
                .attr('stroke-width', 1.1);
        });

        // ---- figure texts ----
        const titleLines = [
            'M5.6 168 km SSE of Isangel, Vanuatu 2019-07-06 11:08:16',
            'from the Raspberry Shake Network and BGS seismometers CCA1, HTL & DYA',
            'depth: 99.66 km, distance: 16722.0 km.'
        ];
        mSvg.selectAll('text.title')
            .data(titleLines)
            .enter()
            .append('text')
            .classed('title', true)
            .attr('x', 950)
            .attr('y', (d, i) => 21.7 + i * 16.3)
            .attr('text-anchor', 'middle')
            .attr('font-size', 13.9)
            .text(d => d);

        mSvg.append('text')
            .attr('transform', 'translate(23,550) rotate(-90)')
            .attr('text-anchor', 'middle')
            .attr('font-size', 13.9)
            .text('Velocity [m/s]');

        mSvg.append('text')
            .attr('x', 950).attr('y', 1086.7)
            .attr('text-anchor', 'middle')
            .attr('font-size', 13.9)
            .text('Time since earthquake [s]');

        mSvg.append('text')
            .attr('x', 19).attr('y', 1086.7)
            .attr('font-size', 13.9)
            .text('Channel: EHZ, filter: "bandpass", freqmin=1.3, freqmax=2.8, corners=4');

        const firstArrivals = [
            {text: 'First Arrivals at R7FA5', color: '#000'},
            {text: 'Pdiff time: 1037.38s', color: '#ff7f0e'},
            {text: 'PKIKP time: 1173.67s', color: '#1f77b4'},
            {text: 'PKP time: 1179.41s', color: '#2ca02c'}
        ];
        mSvg.selectAll('text.first')
            .data(firstArrivals)
            .enter()
            .append('text')
            .classed('first', true)
            .attr('x', 1520)
            .attr('y', (d, i) => 1056 + i * 13.4)
            .attr('font-size', 13.9)
            .style('fill', d => d.color)
            .text(d => d.text);

        // stray ticks of the full-figure background axes at the left edge
        mSvg.selectAll('line.bg-tick')
            .data([0.2, 0.4, 0.6, 0.8])
            .enter()
            .append('line')
            .classed('bg-tick', true)
            .attr('x1', 0).attr('x2', 2.5)
            .attr('y1', d => 1100 * d).attr('y2', d => 1100 * d)
            .attr('stroke', '#444')
            .attr('stroke-width', 0.8);

    </script>
</body>
</html>
